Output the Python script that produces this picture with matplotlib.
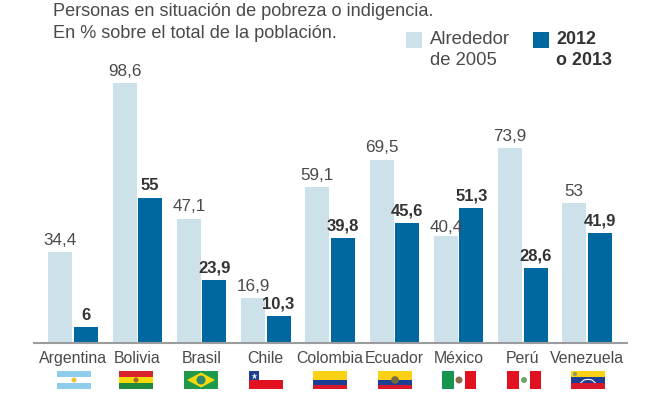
import numpy as np
import matplotlib
matplotlib.use('Agg')
import matplotlib.pyplot as plt
from matplotlib.patches import Rectangle, Circle, Polygon

#%% Data
paises = ['Argentina', 'Bolivia', 'Brasil', 'Chile', 'Colombia', 'Ecuador',
          'México', 'Perú', 'Venezuela']
alrededor_2005 = [34.4, 98.6, 47.1, 16.9, 59.1, 69.5, 40.4, 73.9, 53]
reciente = [6, 55, 23.9, 10.3, 39.8, 45.6, 51.3, 28.6, 41.9]

CLARO = '#cde1ea'
OSCURO = '#0068a0'
TEXTO = '#4a4a4c'

W, H = 653, 395
plt.rcParams['font.family'] = ['Liberation Sans', 'DejaVu Sans']

def etiqueta(v):
    return str(v).replace('.', ',')

fig = plt.figure(figsize=(W / 100, H / 100), dpi=100)

#%% Main axes, placed in pixels
x0, x1, y_base = 34, 627, 343
ax = fig.add_axes([x0 / W, 1 - y_base / H, (x1 - x0) / W, y_base / H])
paso = 64.25
x = np.arange(len(paises))
ax.set_xlim((x0 - 73) / paso, (x1 - 73) / paso)
ax.set_ylim(0, y_base / 2.637)
ancho = 24 / paso
sep = 25.5 / paso / 2

ax.bar(x - sep, alrededor_2005, ancho, color=CLARO)
ax.bar(x + sep, reciente, ancho, color=OSCURO)

for i in x:
    # Mexico's label sits lower in the original, it leans on the dark bar
    extra = 0.4 if paises[i] == 'México' else 1.7
    ax.text(i - sep, alrededor_2005[i] + extra, etiqueta(alrededor_2005[i]), ha='center',
            va='bottom', fontsize=12.3, color=TEXTO, zorder=5)
    ax.text(i + sep, reciente[i] + 1.7, etiqueta(reciente[i]), ha='center', va='bottom',
            fontsize=12, fontweight='bold', color='#333335', zorder=5)

for s in ['top', 'left', 'right']:
    ax.spines[s].set_visible(False)
ax.spines['bottom'].set_color('#9a9c9e')
ax.spines['bottom'].set_linewidth(1.5)
ax.set_yticks([])
ax.set_xticks(x)
ax.set_xticklabels(paises, fontsize=11.4, color=TEXTO)
ax.tick_params(axis='x', length=0, pad=6)
ax.patch.set_visible(False)

#%% Overlay in pixel coordinates for header, legend and flags
ov = fig.add_axes([0, 0, 1, 1])
ov.set_xlim(0, W)
ov.set_ylim(H, 0)
ov.axis('off')

ov.text(53, 12, 'Personas en situación de pobreza o indigencia.', fontsize=13.1,
        color=TEXTO, va='center')
ov.text(53, 34, 'En % sobre el total de la población.', fontsize=13.1,
        color=TEXTO, va='center')

ov.add_patch(Rectangle((406, 32), 16, 16, color=CLARO, lw=0))
ov.add_patch(Rectangle((533, 32), 16, 16, color=OSCURO, lw=0))
ov.text(430, 39.5, 'Alrededor', fontsize=13.3, color=TEXTO, va='center')
ov.text(430, 60.5, 'de 2005', fontsize=13.3, color=TEXTO, va='center')
ov.text(556, 39.5, '2012', fontsize=12.9, color='#333335', va='center', fontweight='bold')
ov.text(556, 60.5, 'o 2013', fontsize=12.9, color='#333335', va='center', fontweight='bold')


def rect(x, y, w, h, c, z=3):
    ov.add_patch(Rectangle((x, y), w, h, facecolor=c, edgecolor='none', zorder=z))


def franjas(x, y, colores, w=34, h=18, pesos=None):
    pesos = pesos or [1] * len(colores)
    t = sum(pesos)
    yy = y
    for c, p in zip(colores, pesos):
        rect(x, yy, w, h * p / t, c)
        yy += h * p / t


fy = 371
franjas(57, fy, ['#8ecdec', '#ffffff', '#8ecdec'])
ov.add_patch(Circle((74, fy + 9), 2.5, color='#f2c230', zorder=4, lw=0))

franjas(119, fy, ['#d8232a', '#f5d90a', '#1f8a3b'])
ov.add_patch(Circle((136, fy + 9), 2.5, color='#a5652a', zorder=4, lw=0))

rect(184, fy, 34, 18, '#1f9a4a')
ov.add_patch(Polygon([(187, fy + 9), (201, fy + 1.5), (215, fy + 9), (201, fy + 16.5)],
                     color='#f5d90a', zorder=4, lw=0))
ov.add_patch(Circle((201, fy + 9), 4.5, color='#2b8a6e', zorder=5, lw=0))

rect(249, fy, 34, 18, '#ffffff')
rect(249, fy + 9, 34, 9, '#e2111f')
rect(249, fy, 9.5, 9, '#1c3f8f')
ov.plot([253.7], [fy + 4.5], marker='*', ms=4.5, color='white', mec='none', zorder=5)

franjas(313, fy, ['#fbd116', '#1c3f94', '#d8172a'], pesos=[2, 1, 1])
franjas(378, fy, ['#fbd116', '#1c3f94', '#d8172a'], pesos=[2, 1, 1])
ov.add_patch(Circle((395, fy + 9), 3.8, color='#7a6a3a', zorder=4, lw=0))

rect(442, fy, 11.5, 18, '#17944d')
rect(453.5, fy, 11, 18, '#ffffff')
rect(464.5, fy, 11.5, 18, '#e2111f')
ov.add_patch(Circle((459, fy + 9), 3.5, color='#8c6d4a', zorder=4, lw=0))

rect(507, fy, 11.5, 18, '#e2111f')
rect(518.5, fy, 11, 18, '#ffffff')
rect(529.5, fy, 11.5, 18, '#e2111f')
ov.add_patch(Circle((524, fy + 9), 3, color='#6da56a', zorder=4, lw=0))

franjas(571, fy, ['#fbd116', '#1c3f94', '#d8172a'])
ov.add_patch(Circle((575, fy + 3), 2, color='#8a9a5a', zorder=4, lw=0))
ov.plot([581, 584, 588, 592, 595], [fy + 11.5, fy + 9, fy + 8.3, fy + 9, fy + 11.5],
        color='white', lw=0.8, zorder=5)

fig.savefig('out.png', dpi=100)
